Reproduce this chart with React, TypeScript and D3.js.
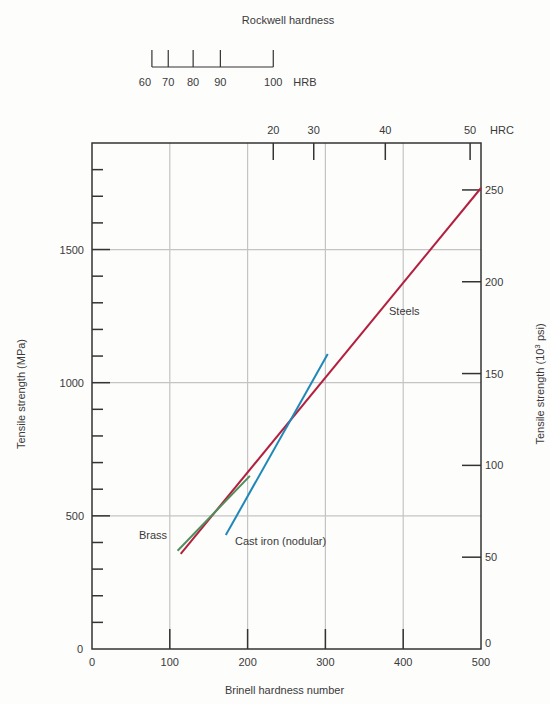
import React from 'react';
import * as d3 from 'd3';

// Brinell axis
const brinellTicks = [0, 100, 200, 300, 400, 500];
const brinellGrid = [100, 200, 300, 400];
// Left axis (MPa)
const mpaTicks = [0, 500, 1000, 1500];
const mpaMinor = [100, 200, 300, 400, 600, 700, 800, 900, 1100, 1200, 1300, 1400, 1600, 1700, 1800];
// Right axis (10^3 psi)
const psiTicks = [0, 50, 100, 150, 200, 250];
// Rockwell C on top, with equivalent Brinell
const hrcTicks = [20, 30, 40, 50];
const hrcBrinell = [233, 285, 377, 486];
// Rockwell B above, with equivalent Brinell
const hrbTicks = [60, 70, 80, 90, 100];
const hrbBrinell = [77, 98, 130, 165, 233];

// lines: [brinell, MPa]
const steels = [[114, 357], [500, 1731]];
const brass = [[110, 369], [203, 650]];
const castIron = [[172, 428], [303, 1108]];

const W = 550;
const H = 704;
const font = "'Liberation Sans', Arial, sans-serif";
const txt = '#3a3a3a';
const axisCol = '#333';
const gridCol = '#c4c4c4';

export default function App() {
  const left = 92, right = 481, top = 143, bottom = 649;
  const x = d3.scaleLinear().domain([0, 500]).range([left, right]);
  const y = d3.scaleLinear().domain([0, 1900]).range([bottom, top]);
  const psiToMpa = 6.895;
  const line = d3.line<number[]>().x(d => x(d[0])).y(d => y(d[1]));

  const series = [
    { data: steels, color: '#b3203f' },
    { data: brass, color: '#4f8f5a' },
    { data: castIron, color: '#2088b8' },
  ];

  const hrbY = 67;

  return (
    <svg width={W} height={H} style={{ display: 'block', position: 'absolute', left: 0, top: 0, background: '#fdfdfc' }}>
      <g fontFamily={font} fontSize={11} fill={txt}>
        {/* Rockwell B scale */}
        <text x={288} y={24} textAnchor="middle">Rockwell hardness</text>
        <line x1={x(hrbBrinell[0])} x2={x(hrbBrinell[hrbBrinell.length - 1])} y1={hrbY} y2={hrbY} stroke={axisCol} strokeWidth={1.2} />
        {hrbTicks.map((t, i) => (
          <g key={'hrb' + t}>
            <line x1={x(hrbBrinell[i])} x2={x(hrbBrinell[i])} y1={hrbY} y2={hrbY - 17} stroke={axisCol} strokeWidth={1.2} />
            <text x={x(hrbBrinell[i]) - (i === 0 ? 7 : 0)} y={86} textAnchor="middle">{t}</text>
          </g>
        ))}
        <text x={x(hrbBrinell[hrbBrinell.length - 1]) + 20} y={86}>HRB</text>

        {/* grid */}
        {brinellGrid.map(t => (
          <line key={'gx' + t} x1={x(t)} x2={x(t)} y1={top} y2={bottom} stroke={gridCol} strokeWidth={1.2} />
        ))}
        {mpaTicks.filter(t => t > 0).map(t => (
          <line key={'gy' + t} x1={left} x2={right} y1={y(t)} y2={y(t)} stroke={gridCol} strokeWidth={1.2} />
        ))}

        {/* frame */}
        <rect x={left} y={top} width={right - left} height={bottom - top} fill="none" stroke={axisCol} strokeWidth={1.5} />

        {/* bottom ticks */}
        {brinellGrid.map(t => (
          <line key={'bt' + t} x1={x(t)} x2={x(t)} y1={bottom} y2={bottom - 20} stroke={axisCol} strokeWidth={1.5} />
        ))}
        {brinellTicks.map(t => (
          <text key={'bl' + t} x={x(t)} y={666} textAnchor="middle">{t}</text>
        ))}
        <text x={(left + right) / 2 - 2} y={694} textAnchor="middle">Brinell hardness number</text>

        {/* left ticks */}
        {mpaMinor.map(t => (
          <line key={'lm' + t} x1={left} x2={left + 11} y1={y(t)} y2={y(t)} stroke={axisCol} strokeWidth={1.5} />
        ))}
        {mpaTicks.map(t => (
          <g key={'lt' + t}>
            {t > 0 && <line x1={left} x2={left + 18} y1={y(t)} y2={y(t)} stroke={axisCol} strokeWidth={1.5} />}
            <text x={t === 0 ? 83 : 84} y={y(t) + 4} textAnchor="end">{t}</text>
          </g>
        ))}
        <text transform={`translate(25,${(top + bottom) / 2 - 2}) rotate(-90)`} textAnchor="middle">Tensile strength (MPa)</text>

        {/* right ticks */}
        {psiTicks.map(t => (
          <g key={'rt' + t}>
            {t > 0 && <line x1={right - 19} x2={right} y1={y(t * psiToMpa)} y2={y(t * psiToMpa)} stroke={axisCol} strokeWidth={1.5} />}
            <text x={right + 4} y={y(t * psiToMpa) + (t === 0 ? -2 : 4)}>{t}</text>
          </g>
        ))}
        <text transform={`translate(544,${(top + bottom) / 2 - 12}) rotate(-90)`} textAnchor="middle">
          Tensile strength (10<tspan dy={-4} fontSize={8}>3</tspan><tspan dy={4}> psi)</tspan>
        </text>

        {/* top HRC ticks */}
        {hrcTicks.map((t, i) => (
          <g key={'hrc' + t}>
            <line x1={x(hrcBrinell[i])} x2={x(hrcBrinell[i])} y1={top} y2={top + 17} stroke={axisCol} strokeWidth={1.5} />
            <text x={x(hrcBrinell[i])} y={134} textAnchor="middle">{t}</text>
          </g>
        ))}
        <text x={490} y={134}>HRC</text>

        {/* series */}
        {series.map((s, i) => (
          <path key={'s' + i} d={line(s.data) || ''} fill="none" stroke={s.color} strokeWidth={2} />
        ))}
        <text x={389} y={315}>Steels</text>
        <text x={139} y={539}>Brass</text>
        <text x={235} y={545}>Cast iron (nodular)</text>
      </g>
    </svg>
  );
}
